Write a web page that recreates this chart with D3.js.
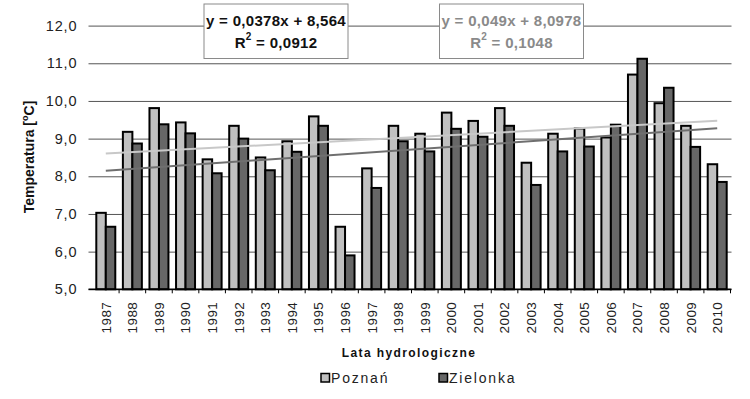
<!DOCTYPE html>
<html>
<head>
<meta charset="utf-8">
<script src="https://cdn.jsdelivr.net/npm/d3@7"></script>
<style>
  body { margin: 0; background: #fff; }
  svg { font-family: "Liberation Sans", Arial, sans-serif; display: block; }
</style>
</head>
<body>
<div id="container"></div>
<script>
/* DATA */
const years = [1987, 1988, 1989, 1990, 1991, 1992, 1993, 1994, 1995, 1996, 1997, 1998,
  1999, 2000, 2001, 2002, 2003, 2004, 2005, 2006, 2007, 2008, 2009, 2010];
const poznan = [7.03, 9.18, 9.81, 9.43, 8.45, 9.34, 8.50, 8.93, 9.59, 6.66, 8.21, 9.34,
  9.13, 9.69, 9.47, 9.81, 8.36, 9.13, 9.27, 9.03, 10.70, 9.94, 9.34, 8.32];
const zielonka = [6.66, 8.87, 9.38, 9.14, 8.08, 9.00, 8.16, 8.65, 9.34, 5.90, 7.69, 8.93,
  8.66, 9.26, 9.05, 9.34, 7.77, 8.66, 8.79, 9.37, 11.12, 10.35, 8.78, 7.85];
const seriesNames = ["Poznań", "Zielonka"];
const yTicks = [5, 6, 7, 8, 9, 10, 11, 12];
// trend lines as printed on the chart (x = 1..24)
const trendSlopes = [0.0378, 0.049];
const trendIntercepts = [8.564, 8.0978];
const eqText = ["y = 0,0378x + 8,564", "y = 0,049x + 8,0978"];
const r2Text = ["0,0912", "0,1048"];

/* CONSTANTS */
const width = 750, height = 399;
const plot = { left: 92.5, right: 730.5, top: 25.6, bottom: 289.3 };
const barColors = ["#c0c0c0", "#676767"];
const trendColors = ["#c8c8c8", "#6f6f6f"];
const eqColors = ["#111", "#8a8a8a"];

const svg = d3.select("#container")
  .append("svg")
  .attr("width", width)
  .attr("height", height);

svg.append("rect").attr("width", width).attr("height", height).attr("fill", "#fff");

/* SCALES */
const xScale = d3.scaleBand()
  .domain(years.map(String))
  .range([plot.left, plot.right])
  .padding(0);

const xSub = d3.scaleBand()
  .domain(seriesNames)
  .range([3.8, xScale.bandwidth() - 3.8])
  .padding(0);

const yScale = d3.scaleLinear()
  .domain([5, 12])
  .range([plot.bottom, plot.top]);

/* GRIDLINES + Y LABELS */
const gridLeft = 88.5, gridRight = 731.5;
const yAxis = d3.axisLeft(yScale)
  .tickValues(yTicks)
  .tickFormat(d => d3.format(".1f")(d).replace(".", ","))
  .tickSize(-(gridRight - gridLeft))
  .tickPadding(11);

const yG = svg.append("g")
  .attr("transform", `translate(${gridLeft},0)`)
  .call(yAxis);
yG.select(".domain").remove();
yG.selectAll(".tick line").attr("stroke", "#555").attr("stroke-width", 1);
yG.selectAll(".tick text")
  .attr("font-size", "14.5px")
  .attr("letter-spacing", "0.9px")
  .attr("fill", "#222")
  .attr("font-family", "Liberation Sans, Arial, sans-serif");

/* EQUATION BOXES */
const boxX = [204, 439.5];
boxX.forEach((bx, i) => {
  svg.append("rect")
    .attr("x", bx).attr("y", 4)
    .attr("width", 144).attr("height", 54.5)
    .attr("fill", "#fff")
    .attr("stroke", "#8a8a8a")
    .attr("stroke-width", 1);

  svg.append("text")
    .attr("x", bx + 72).attr("y", 26)
    .attr("text-anchor", "middle")
    .attr("font-size", "15px")
    .attr("font-weight", "bold")
    .attr("letter-spacing", "0.3px")
    .attr("fill", eqColors[i])
    .text(eqText[i]);

  const r = svg.append("text")
    .attr("x", bx + 72).attr("y", 47.5)
    .attr("text-anchor", "middle")
    .attr("font-size", "15px")
    .attr("font-weight", "bold")
    .attr("letter-spacing", "0.3px")
    .attr("fill", eqColors[i]);
  r.append("tspan").text("R");
  r.append("tspan").attr("font-size", "10px").attr("dy", -8).text("2");
  r.append("tspan").attr("dy", 8).text(" = " + r2Text[i]);
});

/* BARS */
const tableRows = years.map((y, i) => ({ year: String(y), values: [poznan[i], zielonka[i]] }));

svg.append("g")
  .selectAll("g")
  .data(tableRows)
  .join("g")
  .attr("transform", d => `translate(${xScale(d.year)},0)`)
  .selectAll("rect")
  .data(d => d.values.map((v, k) => ({ name: seriesNames[k], value: v, k })))
  .join("rect")
  .attr("x", d => xSub(d.name))
  .attr("y", d => yScale(d.value))
  .attr("width", xSub.bandwidth())
  .attr("height", d => yScale(5) - yScale(d.value))
  .attr("fill", d => barColors[d.k])
  .attr("stroke", "#000")
  .attr("stroke-width", 2);

/* TREND LINES */
const firstX = xScale(String(years[0])) + xScale.bandwidth() / 2;
const lastX = xScale(String(years[years.length - 1])) + xScale.bandwidth() / 2;
trendSlopes.forEach((m, i) => {
  const n = years.length;
  svg.append("line")
    .attr("x1", firstX)
    .attr("y1", yScale(m * 1 + trendIntercepts[i]))
    .attr("x2", lastX)
    .attr("y2", yScale(m * n + trendIntercepts[i]))
    .attr("stroke", trendColors[i])
    .attr("stroke-width", 2);
});

/* X AXIS */
const xAxis = d3.axisBottom(xScale).tickSize(0).tickPadding(0);
const xG = svg.append("g")
  .attr("transform", `translate(0,${plot.bottom})`)
  .call(xAxis);
xG.select(".domain").remove();
xG.selectAll(".tick text")
  .attr("transform", "rotate(-90)")
  .attr("x", -12.5)
  .attr("y", 0)
  .attr("dy", "0.36em")
  .attr("text-anchor", "end")
  .attr("font-size", "13.5px")
  .attr("letter-spacing", "0.4px")
  .attr("fill", "#222")
  .attr("font-family", "Liberation Sans, Arial, sans-serif");

// axis line and boundary ticks
svg.append("line")
  .attr("x1", gridLeft).attr("x2", plot.right + 1)
  .attr("y1", plot.bottom).attr("y2", plot.bottom)
  .attr("stroke", "#000").attr("stroke-width", 1.5);

svg.append("g")
  .selectAll("line")
  .data(years.slice(1).map(String).concat(["end"]))
  .join("line")
  .attr("x1", d => d === "end" ? plot.right : xScale(d))
  .attr("x2", d => d === "end" ? plot.right : xScale(d))
  .attr("y1", plot.bottom)
  .attr("y2", plot.bottom + 4)
  .attr("stroke", "#000")
  .attr("stroke-width", 1);

/* AXIS TITLES */
svg.append("text")
  .attr("x", 409).attr("y", 357)
  .attr("text-anchor", "middle")
  .attr("font-size", "12px")
  .attr("font-weight", "bold")
  .attr("letter-spacing", "1.4px")
  .attr("fill", "#111")
  .text("Lata hydrologiczne");

const yTitle = svg.append("text")
  .attr("transform", "translate(34,157) rotate(-90)")
  .attr("text-anchor", "middle")
  .attr("font-size", "14px")
  .attr("font-weight", "bold")
  .attr("fill", "#111");
yTitle.append("tspan").text("Temperatura [");
yTitle.append("tspan").attr("font-size", "9px").attr("dy", -6).text("o");
yTitle.append("tspan").attr("dy", 6).text("C]");

/* LEGEND */
const legendX = [321, 439];
seriesNames.forEach((name, i) => {
  svg.append("rect")
    .attr("x", legendX[i]).attr("y", 373.5)
    .attr("width", 8.5).attr("height", 8.5)
    .attr("fill", barColors[i])
    .attr("stroke", "#000")
    .attr("stroke-width", 1.5);
  svg.append("text")
    .attr("x", legendX[i] + 10).attr("y", 383)
    .attr("font-size", "14px")
    .attr("letter-spacing", "1.8px")
    .attr("fill", "#222")
    .text(name);
});
</script>
</body>
</html>
